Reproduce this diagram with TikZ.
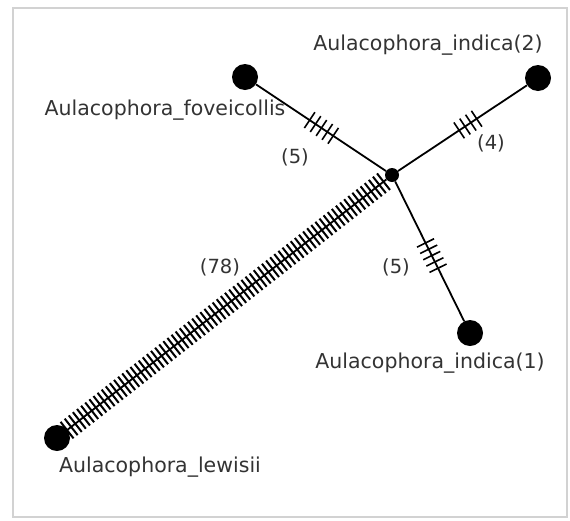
\documentclass[tikz,border=0pt]{standalone}
\usepackage{fontspec}
\usetikzlibrary{calc}
\newfontfamily\dvfont{DejaVu Sans}
\definecolor{txtgray}{HTML}{333333}
\tikzset{
  leafdot/.style={circle,fill=black,inner sep=0pt,minimum size=26pt},
  hubdot/.style={circle,fill=black,inner sep=0pt,minimum size=14pt},
  edgeline/.style={line width=1.8pt,black},
  tickline/.style={line width=1.6pt,black},
  taxonlabel/.style={font=\dvfont\fontsize{20.5}{24}\selectfont,text=txtgray,inner sep=0pt},
  countlabel/.style={font=\dvfont\fontsize{19.5}{23}\selectfont,text=txtgray,inner sep=0pt},
}
\newcommand\hatchmarks[7]{% from, to, tstart, tnext, tend, half length, width
  \foreach \t in {#3,#4,...,#5}{
    \coordinate (hm) at ($(#1)!\t!(#2)$);
    \draw[tickline,line width=#7] ($(hm)!#6!90:(#2)$) -- ($(hm)!#6!-90:(#2)$);
  }}
\begin{document}
\begin{tikzpicture}[x=1pt,y=-1pt]
\useasboundingbox (0,0) rectangle (570,520);
\draw[gray!35,line width=1.5pt] (13,8) rectangle (567,517);
% nodes
\node[hubdot] (c) at (392,175) {};
\node[leafdot] (fov) at (245,77) {};
\node[leafdot] (in2) at (538,78) {};
\node[leafdot] (in1) at (470,333) {};
\node[leafdot] (lew) at (57,438) {};
% edges
\draw[edgeline] (fov) -- (c);
\draw[edgeline] (c) -- (in2);
\draw[edgeline] (c) -- (in1);
\draw[edgeline] (lew) -- (c);
% hatch marks
\hatchmarks{fov}{c}{0.44}{0.48}{0.61}{9.5pt}{1.6pt}
\hatchmarks{c}{in2}{0.46}{0.50}{0.59}{9.5pt}{1.6pt}
\hatchmarks{c}{in1}{0.43}{0.47}{0.60}{9.5pt}{1.6pt}
\hatchmarks{lew}{c}{0.03}{0.04227}{0.976}{10.5pt}{2pt}
% labels
\node[taxonlabel] (lin2) at (428,45) {Aulacophora\_indica(2)};
\node[taxonlabel] (lfov) at (165,110) {Aulacophora\_foveicollis};
\node[taxonlabel] (lin1) at (430,363) {Aulacophora\_indica(1)};
\node[taxonlabel] (llew) at (160,467) {Aulacophora\_lewisii};
\node[countlabel] (n1) at (295,157) {(5)};
\node[countlabel] (n2) at (491,143) {(4)};
\node[countlabel] (n3) at (396,267) {(5)};
\node[countlabel] (n4) at (220,267) {(78)};
\end{tikzpicture}
\end{document}
